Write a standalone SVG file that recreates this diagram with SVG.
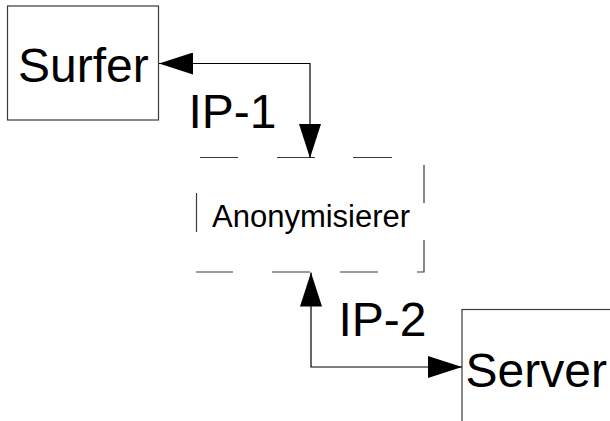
<svg xmlns="http://www.w3.org/2000/svg" width="610" height="421" viewBox="0 0 610 421">
  <style>
    .box { fill: #ffffff; stroke: #3a3a3a; stroke-width: 1.2; }
    .dash { fill: none; stroke: #3a3a3a; stroke-width: 1.2; }
    .conn { fill: none; stroke: #000000; stroke-width: 1.2; }
    .big { font-family: "Liberation Sans", Arial, sans-serif; font-size: 48px; fill: #000000; }
    .small { font-family: "Liberation Sans", Arial, sans-serif; font-size: 31px; fill: #000000; }
  </style>
  <defs>
    <marker id="arrow" viewBox="0 0 34 22" refX="34" refY="11" markerWidth="34" markerHeight="22" markerUnits="userSpaceOnUse" orient="auto-start-reverse">
      <path d="M0,0 L34,11 L0,22 z" fill="#000000"/>
    </marker>
  </defs>
  <rect width="610" height="421" fill="#ffffff"/>

  <g id="surfer">
    <rect class="box" x="7.5" y="6" width="151" height="114"/>
    <text class="big" x="18" y="82">Surfer</text>
  </g>

  <g id="anonymisierer">
    <path class="dash" d="M200,157.5 H238 M277,157.5 H315 M353,157.5 H392 M424,165 V203 M424,240 V272 H417 M378,272 H340 M310,272 H272 M233,272 H196 M196.5,232 V193"/>
    <text class="small" x="212" y="227">Anonymisierer</text>
  </g>

  <g id="server">
    <rect class="box" x="462" y="309.5" width="200" height="200"/>
    <text class="big" x="465.5" y="387">Server</text>
  </g>

  <g id="connectors">
    <path class="conn" d="M310,158 V63.5 H159" marker-start="url(#arrow)" marker-end="url(#arrow)"/>
    <text class="big" x="188.5" y="128">IP-1</text>
    <path class="conn" d="M311,272.5 V367 H462" marker-start="url(#arrow)" marker-end="url(#arrow)"/>
    <text class="big" x="338.5" y="336">IP-2</text>
  </g>
</svg>
